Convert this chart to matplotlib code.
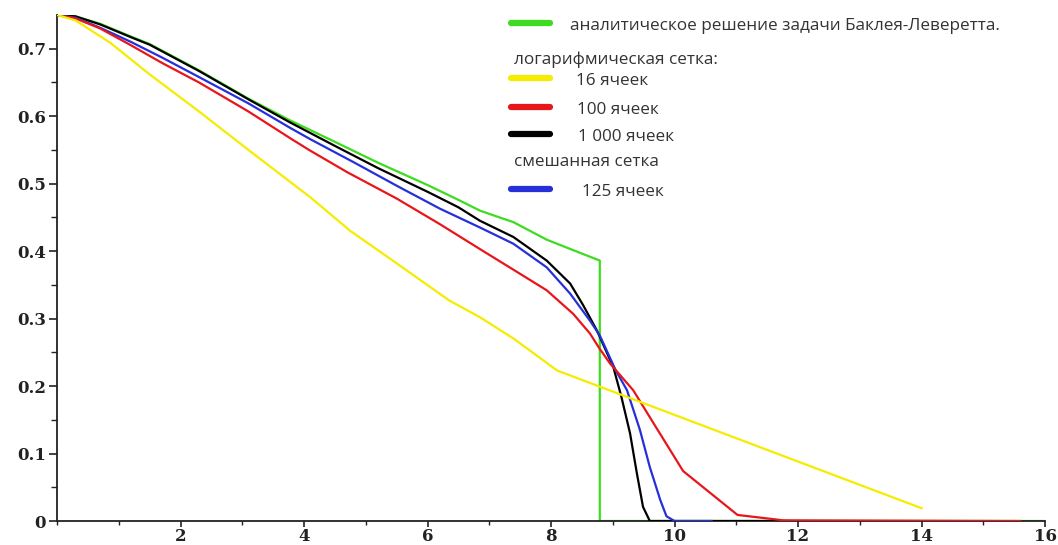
import matplotlib
matplotlib.use("Agg")
import matplotlib.pyplot as plt
from matplotlib.lines import Line2D
from matplotlib.ticker import MultipleLocator
import numpy as np

# analytic Buckley-Leverett solution
x_green = [0, 0.3, 0.7, 1.2, 1.5, 2.3, 3.1, 3.77, 4.5, 5.2, 6.0, 6.5, 6.85, 7.07, 7.39, 7.93, 8.4, 8.79, 8.79, 16]
y_green = [0.75, 0.748, 0.737, 0.718, 0.707, 0.668, 0.626, 0.594, 0.562, 0.531, 0.498, 0.476, 0.46, 0.453, 0.443, 0.417, 0.40, 0.386, 0.0, 0.0]

# log grid, 16 cells
x_yellow = [0, 0.3, 0.86, 1.5, 2.3, 3.1, 4.1, 4.75, 5.5, 6.35, 6.85, 7.4, 8.1, 14.0]
y_yellow = [0.75, 0.742, 0.709, 0.662, 0.607, 0.55, 0.48, 0.43, 0.382, 0.327, 0.302, 0.27, 0.223, 0.019]

# log grid, 100 cells
x_red = [0, 0.3, 0.7, 1.2, 1.7, 2.3, 3.1, 3.8, 4.1, 4.7, 5.5, 6.2, 6.85, 7.4, 7.93, 8.36, 8.63, 8.79,
         8.96, 9.33, 9.66, 10.14, 11.02, 11.76, 15.6]
y_red = [0.75, 0.745, 0.73, 0.705, 0.679, 0.65, 0.607, 0.566, 0.549, 0.517, 0.478, 0.44, 0.403, 0.372,
         0.342, 0.307, 0.278, 0.255, 0.233, 0.194, 0.145, 0.074, 0.009, 0.001, 0.0]

# log grid, 1000 cells
x_black = [0, 0.3, 0.7, 1.2, 1.5, 2.3, 3.1, 3.77, 4.5, 5.2, 6.0, 6.5, 6.85, 7.39, 7.93, 8.31, 8.52, 8.74,
           8.79, 9.01, 9.14, 9.28, 9.39, 9.49, 9.6, 11.8]
y_black = [0.75, 0.748, 0.736, 0.717, 0.706, 0.667, 0.625, 0.591, 0.556, 0.523, 0.488, 0.465, 0.445, 0.421,
           0.386, 0.352, 0.32, 0.283, 0.273, 0.228, 0.184, 0.13, 0.071, 0.021, 0.0, 0.0]

# mixed grid, 125 cells
x_blue = [0, 0.3, 0.7, 1.2, 1.7, 2.3, 3.1, 3.77, 4.1, 4.8, 5.5, 6.2, 6.85, 7.39, 7.93, 8.31, 8.63, 8.79,
          9.05, 9.23, 9.44, 9.6, 9.77, 9.87, 10.0, 10.6]
y_blue = [0.75, 0.746, 0.731, 0.71, 0.687, 0.658, 0.619, 0.583, 0.566, 0.532, 0.497, 0.463, 0.435, 0.411,
          0.376, 0.337, 0.297, 0.275, 0.223, 0.194, 0.135, 0.08, 0.031, 0.007, 0.0, 0.0]

c_green = "#3ddc1e"
c_yellow = "#f5ec00"
c_red = "#e8161b"
c_black = "#000000"
c_blue = "#2630d8"

fig = plt.figure(figsize=(10.58, 5.45), dpi=100)
ax = fig.add_axes([57 / 1058, 24 / 545, (1045 - 57) / 1058, (521 - 15) / 545])

lw = 1.6
ax.plot(x_green, y_green, color=c_green, lw=lw, zorder=2)
ax.plot(x_black, y_black, color=c_black, lw=lw, zorder=3)
ax.plot(x_blue, y_blue, color=c_blue, lw=lw, zorder=4)
ax.plot(x_red, y_red, color=c_red, lw=lw, zorder=5)
ax.plot(x_yellow, y_yellow, color=c_yellow, lw=lw, zorder=6)

ax.set_xlim(0, 16)
ax.set_ylim(0, 0.75)
for s in ["top", "right"]:
    ax.spines[s].set_visible(False)
for s in ["left", "bottom"]:
    ax.spines[s].set_color("#222222")
    ax.spines[s].set_linewidth(1.3)

ax.xaxis.set_minor_locator(MultipleLocator(1))
ax.set_xticks([2, 4, 6, 8, 10, 12, 14, 16])
ax.set_yticks([0, 0.1, 0.2, 0.3, 0.4, 0.5, 0.6, 0.7])
ax.set_yticks(np.arange(0.05, 0.7, 0.1), minor=True)
ax.set_yticklabels(["0", "0.1", "0.2", "0.3", "0.4", "0.5", "0.6", "0.7"])
ax.tick_params(which="major", length=6, width=1.2, color="#222222")
ax.tick_params(which="minor", length=4, width=1.0, color="#222222")
ax.tick_params(axis="x", which="major", length=4, pad=1)
ax.tick_params(axis="x", which="minor", length=3)
ax.tick_params(axis="y", pad=2)
for lab in ax.get_xticklabels() + ax.get_yticklabels():
    lab.set_fontfamily("DejaVu Serif")
    lab.set_fontweight("bold")
    lab.set_fontsize(12)
    lab.set_color("#222222")

# legend drawn by hand: headings sit between entries
def fx(px):
    return px / 1058

def fy(py):
    return 1 - py / 545

leg_font = dict(family="Open Sans", fontsize=12.3, color="#333333", va="center", ha="left")
entries = [
    (23, c_green, 570, "аналитическое решение задачи Баклея-Леверетта."),
    (78, c_yellow, 576, "16 ячеек"),
    (107, c_red, 577, "100 ячеек"),
    (134, c_black, 578, "1 000 ячеек"),
    (189, c_blue, 582, "125 ячеек"),
]
for py, col, tx, txt in entries:
    fig.add_artist(Line2D([fx(511), fx(550)], [fy(py), fy(py)], color=col, lw=4.5,
                          solid_capstyle="round"))
    fig.text(fx(tx), fy(py + 3), txt, **leg_font)
fig.text(fx(514), fy(60), "логарифмическая сетка:", **leg_font)
fig.text(fx(514), fy(162), "смешанная сетка", **leg_font)

fig.savefig("out.png", dpi=100)
